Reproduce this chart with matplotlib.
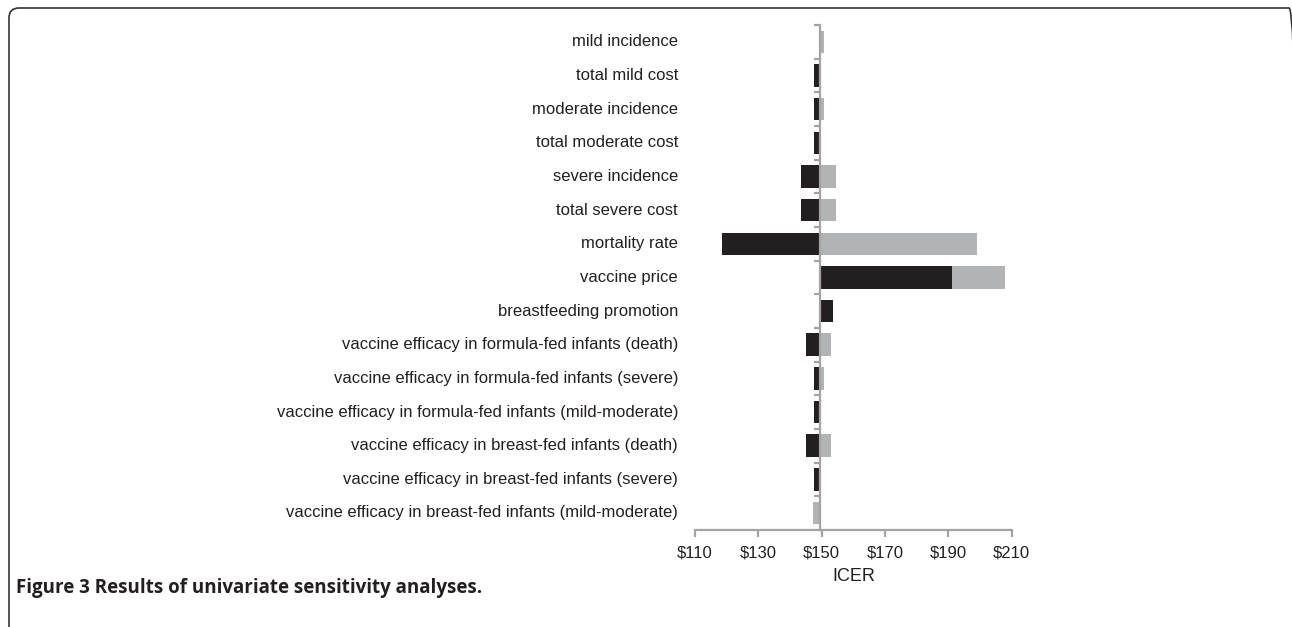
import matplotlib
matplotlib.use("Agg")
from matplotlib import pyplot as plt
from matplotlib.patches import FancyBboxPatch
import numpy as np

plt.rcParams['font.family'] = ['Liberation Sans', 'DejaVu Sans']

parameters = ['mild incidence', 'total mild cost', 'moderate incidence',
              'total moderate cost', 'severe incidence', 'total severe cost',
              'mortality rate', 'vaccine price', 'breastfeeding promotion',
              'vaccine efficacy in formula-fed infants (death)',
              'vaccine efficacy in formula-fed infants (severe)',
              'vaccine efficacy in formula-fed infants (mild-moderate)',
              'vaccine efficacy in breast-fed infants (death)',
              'vaccine efficacy in breast-fed infants (severe)',
              'vaccine efficacy in breast-fed infants (mild-moderate)']

base_icer = 149.4
# ICER at the low / high end of each parameter range
icer_low = [149.4, 147.5, 147.5, 147.6, 143.4, 143.4, 118.6, 191.1, 153.7,
            144.9, 147.5, 147.5, 144.9, 147.5, 149.4]
icer_high = [150.6, 149.4, 150.6, 149.4, 154.6, 154.6, 199.0, 208.0, 149.4,
             152.8, 150.6, 149.4, 152.8, 149.4, 147.4]
xticks = [110, 130, 150, 170, 190, 210]

black = '#231f20'
gray = '#b2b3b5'
axis_gray = '#a3a3a3'

fig = plt.figure(figsize=(12.92, 6.27), dpi=100)
ax = fig.add_axes([0.538, 0.155, 0.245, 0.805])

y = np.arange(len(parameters))
low = np.array(icer_low)
high = np.array(icer_high)
ax.barh(y, high - base_icer, left=base_icer, height=0.67, color=gray, zorder=2)
ax.barh(y, low - base_icer, left=base_icer, height=0.67, color=black, zorder=3)

ax.set_xlim(110, 210)
ax.set_ylim(len(parameters) - 0.5, -0.5)

# y axis crosses at the base-case ICER
ax.spines['left'].set_position(('data', base_icer))
ax.spines['left'].set_zorder(4)
for s in ['top', 'right']:
    ax.spines[s].set_visible(False)
for s in ['left', 'bottom']:
    ax.spines[s].set_color(axis_gray)
    ax.spines[s].set_linewidth(1.6)

ax.set_yticks(np.arange(-0.5, len(parameters) - 0.5, 1))
ax.set_yticklabels([])
ax.tick_params(axis='y', length=4, width=1.6, color=axis_gray, direction='out')

ax.set_xticks(xticks)
ax.set_xticklabels([r'\$%d' % v for v in xticks], fontsize=12, color='#231f20')
ax.tick_params(axis='x', length=5, width=1.6, color=axis_gray, direction='out', pad=6.5)
ax.set_xlabel('ICER', fontsize=13, color='#231f20', labelpad=5.5)

for i, name in enumerate(parameters):
    ax.text(-0.054, i, name, transform=ax.get_yaxis_transform(), ha='right',
            va='center', fontsize=12, color='#231f20')

# rounded frame around the figure panel
frame = FancyBboxPatch((0.09, -0.5), 12.9, 6.19 - (-0.5),
                       boxstyle='round,pad=0,rounding_size=0.1',
                       transform=fig.dpi_scale_trans, fill=False,
                       edgecolor='#333333', linewidth=1.2)
fig.patches.append(frame)

fig.text(0.012, 0.062, 'Figure 3 Results of univariate sensitivity analyses.',
         family=['Open Sans', 'DejaVu Sans'], fontweight='bold', fontsize=13.5,
         color='#231f20', va='center')

plt.savefig('out.png', dpi=100)
